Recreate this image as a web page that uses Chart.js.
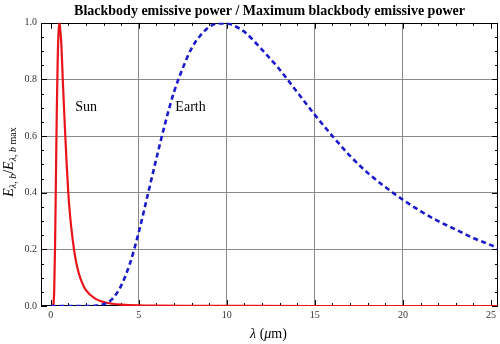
<!DOCTYPE html>
<html>
<head>
<meta charset="utf-8">
<script src="https://cdn.jsdelivr.net/npm/chart.js@4/dist/chart.umd.min.js"></script>
<style>
  html, body { margin: 0; padding: 0; background: #fff; }
</style>
</head>
<body>
<canvas id="bbChart" width="500" height="344"></canvas>
<script>
// Sun (~5800 K): wavelength in um, emissive power / max
const sunLambda = [0.15, 0.2, 0.25, 0.3, 0.35, 0.4, 0.45, 0.5, 0.55, 0.6, 0.7, 0.8, 0.9, 1.0, 1.1, 1.2,
  1.4, 1.6, 1.8, 2.0, 2.5, 3.0, 3.5, 4.0, 5.0, 6.0, 8.0, 10, 15, 25.4];
const sunPower = [0, 0.055, 0.22, 0.465, 0.70, 0.875, 0.97, 1.0, 0.97, 0.93, 0.78, 0.64, 0.51, 0.40, 0.32, 0.26,
  0.17, 0.115, 0.08, 0.056, 0.027, 0.014, 0.008, 0.005, 0.002, 0.001, 0.0004, 0.0002, 0, 0];

// Earth (~300 K)
const earthLambda = [0, 2, 2.5, 3, 3.5, 4, 4.5, 5, 5.5, 6, 6.5, 7, 7.5, 8, 8.5, 9, 9.5, 10, 10.5, 11,
  12, 13, 14, 15, 16, 17, 18, 19, 20, 21, 22, 23, 24, 25, 25.4];
const earthPower = [0, 0, 0.001, 0.006, 0.025, 0.072, 0.15, 0.26, 0.39, 0.52, 0.645, 0.755, 0.84, 0.91, 0.955, 0.985, 0.998, 0.998, 0.987, 0.968,
  0.905, 0.835, 0.755, 0.675, 0.60, 0.53, 0.47, 0.42, 0.375, 0.335, 0.30, 0.27, 0.24, 0.215, 0.205];

const xTickValues = [0, 5, 10, 15, 20, 25];
const yTickValues = [0, 0.2, 0.4, 0.6, 0.8, 1.0];

// text labels next to the curves
const curveLabels = ['Sun', 'Earth'];
const labelLambda = [1.39, 7.08];
const labelPower = [0.69, 0.69];

const SERIF = "'Liberation Serif', 'DejaVu Serif', serif";

function toPoints(xs, ys) {
  return xs.map((x, i) => ({ x: x, y: ys[i] }));
}

// draw a run of text pieces with their own font and vertical offset
function drawRuns(ctx, runs, x, y, align) {
  let total = 0;
  runs.forEach(r => { ctx.font = r.font; total += ctx.measureText(r.t).width; });
  let cx = align === 'center' ? x - total / 2 : x;
  runs.forEach(r => {
    ctx.font = r.font;
    ctx.fillText(r.t, cx, y + (r.dy || 0));
    cx += ctx.measureText(r.t).width;
  });
}

const frameTicks = {
  id: 'frameTicks',
  beforeDatasetsDraw(chart) {
    const { ctx, chartArea: a, scales: { x, y } } = chart;
    ctx.save();
    ctx.strokeStyle = '#000';
    ctx.lineWidth = 1;
    ctx.beginPath();
    for (let v = 0; v <= 25; v++) {
      const px = Math.round(x.getPixelForValue(v)) + 0.5;
      const len = v % 5 === 0 ? 6 : 3;
      ctx.moveTo(px, a.bottom); ctx.lineTo(px, a.bottom - len);
      ctx.moveTo(px, a.top); ctx.lineTo(px, a.top + len);
    }
    for (let i = 0; i <= 20; i++) {
      const py = Math.round(y.getPixelForValue(i * 0.05)) + 0.5;
      const len = i % 4 === 0 ? 6 : 3;
      ctx.moveTo(a.left, py); ctx.lineTo(a.left + len, py);
      ctx.moveTo(a.right, py); ctx.lineTo(a.right - len, py);
    }
    ctx.stroke();
    ctx.strokeRect(Math.round(a.left) + 0.5, Math.round(a.top) + 0.5,
      Math.round(a.width) - 1, Math.round(a.height) - 1);
    ctx.restore();
  },
  afterDraw(chart) {
    const { ctx, chartArea: a, scales: { x, y } } = chart;
    ctx.save();
    ctx.fillStyle = '#000';
    ctx.textBaseline = 'alphabetic';

    // curve names
    ctx.font = '14px ' + SERIF;
    ctx.textAlign = 'left';
    curveLabels.forEach((t, i) => {
      ctx.fillText(t, x.getPixelForValue(labelLambda[i]), y.getPixelForValue(labelPower[i]));
    });

    // x axis title: λ (μm)
    const it = 'italic 14px ' + SERIF, up = '14px ' + SERIF;
    drawRuns(ctx, [
      { t: 'λ', font: it }, { t: ' (', font: up }, { t: 'μ', font: it }, { t: 'm)', font: up }
    ], (a.left + a.right) / 2 - 1, 338, 'center');

    // y axis title: E_{λ,b}/E_{λ,b}max, rotated
    const sub = 'italic 10px ' + SERIF, subUp = '10px ' + SERIF;
    ctx.translate(13, 162);
    ctx.rotate(-Math.PI / 2);
    drawRuns(ctx, [
      { t: 'E', font: it }, { t: 'λ, b', font: sub, dy: 3 }, { t: '/', font: up },
      { t: 'E', font: it }, { t: 'λ, b', font: sub, dy: 3 }, { t: ' max', font: subUp, dy: 3 }
    ], 0, 0, 'center');
    ctx.restore();
  }
};

const ctx = document.getElementById('bbChart').getContext('2d');
const bbChart = new Chart(ctx, {
  type: 'line',
  data: {
    datasets: [{
      label: 'Sun',
      data: toPoints(sunLambda, sunPower),
      borderColor: '#e8141a',
      borderWidth: 2.2,
      pointRadius: 0,
      cubicInterpolationMode: 'monotone',
      order: 1
    }, {
      label: 'Earth',
      data: toPoints(earthLambda, earthPower),
      borderColor: '#1a1acc',
      borderWidth: 2.6,
      borderDash: [5, 3.5],
      pointRadius: 0,
      cubicInterpolationMode: 'monotone',
      order: 0
    }]
  },
  options: {
    responsive: false,
    animation: false,
    layout: { padding: { left: 0, right: 2, top: 0, bottom: 0 } },
    plugins: {
      legend: { display: false },
      tooltip: { enabled: false },
      title: {
        display: true,
        fullSize: false,
        text: 'Blackbody emissive power / Maximum blackbody emissive power',
        color: '#000',
        font: { family: SERIF, size: 14, weight: 'bold', lineHeight: 1.2 },
        padding: { top: 3, bottom: 3 }
      }
    },
    scales: {
      x: {
        type: 'linear',
        min: -0.55,
        max: 25.4,
        afterBuildTicks: s => { s.ticks = xTickValues.map(v => ({ value: v })); },
        afterFit: s => { s.height = 38; },
        border: { display: false },
        grid: {
          drawTicks: false,
          lineWidth: 1,
          color: c => (c.tick && c.tick.value > 0 && c.tick.value < 25) ? '#8a8a8a' : 'rgba(0,0,0,0)'
        },
        ticks: {
          padding: 3,
          maxRotation: 0,
          color: '#333',
          font: { family: SERIF, size: 10 },
          callback: v => String(v)
        }
      },
      y: {
        type: 'linear',
        min: 0,
        max: 1,
        afterBuildTicks: s => { s.ticks = yTickValues.map(v => ({ value: v })); },
        afterFit: s => { s.width = 41; },
        border: { display: false },
        grid: {
          drawTicks: false,
          lineWidth: 1,
          color: c => (c.tick && c.tick.value > 0.01 && c.tick.value < 0.99) ? '#8a8a8a' : 'rgba(0,0,0,0)'
        },
        ticks: {
          padding: 4,
          color: '#333',
          font: { family: SERIF, size: 10 },
          callback: v => v.toFixed(1)
        }
      }
    }
  },
  plugins: [frameTicks]
});
</script>
</body>
</html>
